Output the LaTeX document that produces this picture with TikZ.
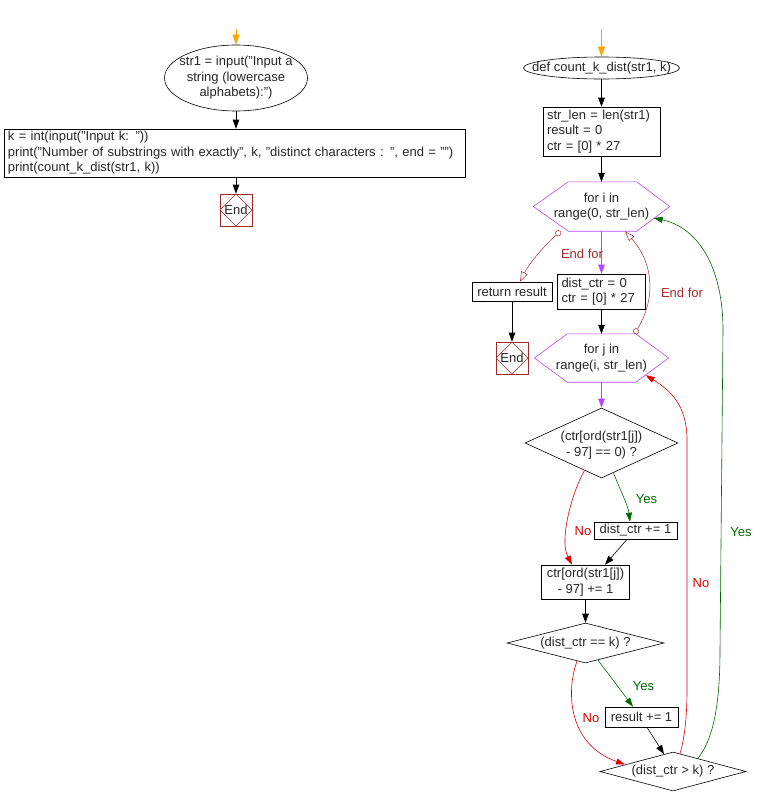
\documentclass[tikz,border=0pt]{standalone}
\usepackage{fontspec}
\setmainfont{Liberation Sans}
\usetikzlibrary{arrows.meta,shapes.geometric,calc}
\definecolor{vio}{RGB}{187,68,255}
\definecolor{efor}{RGB}{165,42,42}
\definecolor{nored}{RGB}{220,0,0}
\definecolor{yesgr}{RGB}{0,105,0}
\definecolor{endred}{RGB}{160,40,40}
\definecolor{org}{RGB}{255,165,0}
\newcommand\myhex[3]{\draw[vio,line width=0.6pt] (#1.west) -- ([xshift=#2]#1.north west) -- ([xshift=-#3]#1.north east) -- (#1.east) -- ([xshift=-#3]#1.south east) -- ([xshift=#2]#1.south west) -- cycle;}
\begin{document}
\begin{tikzpicture}[x=1pt,y=-1pt,
  font=\fontsize{13pt}{15.5pt}\selectfont,
  every node/.style={text=black!85},
  lbox/.style={draw=black,line width=0.6pt,inner xsep=4pt,inner ysep=0pt,align=left},
  cbox/.style={draw=black,line width=0.6pt,inner sep=0pt,align=center},
  dia/.style={diamond,draw=black,line width=0.6pt,inner sep=0pt},
  ell/.style={ellipse,draw=black,line width=0.6pt,inner sep=0pt},
  hexn/.style={inner sep=0pt,align=center},
  endbox/.style={draw=endred,line width=0.6pt,minimum size=32pt,inner sep=0pt,
    path picture={\draw[endred,line width=0.6pt] (path picture bounding box.north) -- (path picture bounding box.east) -- (path picture bounding box.south) -- (path picture bounding box.west) -- cycle;}},
  arr/.style={line width=0.6pt,-{Triangle[length=9pt,width=6.5pt]}},
  varr/.style={arr,draw=vio,-{Triangle[length=9pt,width=6.5pt,fill=vio]}},
  oarr/.style={line width=1pt,draw=org,-{Triangle[length=10pt,width=7pt,fill=org]}},
  farr/.style={line width=0.5pt,draw=efor,{Circle[open,length=6pt,width=6pt]}-{Triangle[open,length=10pt,width=7pt]}},
  noarr/.style={line width=0.6pt,draw=nored,-{Triangle[length=9pt,width=6pt,fill=nored]}},
  yesarr/.style={line width=0.6pt,draw=yesgr,-{Triangle[length=9pt,width=6pt,fill=yesgr]}},
  flab/.style={text=efor},
  nlab/.style={text=nored},
  ylab/.style={text=yesgr}]
\useasboundingbox (0,0) rectangle (758,806);

% ---------- left part ----------
\coordinate (s1) at (236,29);
\node[ell,minimum width=143pt,minimum height=66pt] (e1) at (236,78) {};
\node[align=center] (e1t) at (e1) {str1 = input("Input a\\string (lowercase\\alphabets):")};
\node[lbox,text width=453pt,minimum height=48pt] (b1) at (234.5,153) {k = int(input("Input k: "))\\print("Number of substrings with exactly", k, "distinct characters : ", end = "")\\print(count\_k\_dist(str1, k))};
\node[endbox] (end1) at (236,210) {End};
\draw[oarr] (s1) -- (e1.north);
\draw[arr] (e1.south) -- (e1.south |- b1.north);
\draw[arr] (e1.south |- b1.south) -- (end1.north);

% ---------- right part ----------
\coordinate (s2) at (601.5,29);
\node[ell,minimum width=156pt,minimum height=22pt] (e2) at (601.5,68) {};
\node (e2t) at (e2) {def count\_k\_dist(str1, k)};
\node[lbox,text width=109pt,minimum height=49pt] (b2) at (601.5,131.5) {str\_len = len(str1)\\result = 0\\ctr = [0] * 27};
\node[hexn,minimum width=136pt,minimum height=49pt] (hi) at (601.5,206.5) {for i in\\range(0, str\_len)};
\myhex{hi}{35pt}{33pt}
\node[lbox,text width=80pt,minimum height=35pt] (bd) at (601.5,291.5) {dist\_ctr = 0\\ctr = [0] * 27};
\node[cbox,minimum width=80pt,minimum height=19pt] (ret) at (512,291.5) {return result};
\node[endbox] (end2) at (512,358) {End};
\node[hexn,minimum width=134pt,minimum height=48pt] (hj) at (601.5,358) {for j in\\range(i, str\_len)};
\myhex{hj}{33pt}{33pt}
\node[dia,minimum width=153pt,minimum height=70pt] (d1) at (601.5,443) {};
\node[align=center] (d1t) at (601.5,445) {(ctr[ord(str1[j])\\- 97] == 0) ?};
\node[cbox,minimum width=83pt,minimum height=17pt] (binc) at (635.5,530.5) {dist\_ctr += 1};
\node[cbox,minimum width=88pt,minimum height=34pt] (bc) at (585.5,582) {ctr[ord(str1[j])\\- 97] += 1};
\node[dia,minimum width=157pt,minimum height=40pt] (d2) at (585.5,643) {};
\node (d2t) at (d2) {(dist\_ctr == k) ?};
\node[cbox,minimum width=73pt,minimum height=20pt] (res) at (641.5,717) {result += 1};
\node[dia,minimum width=146pt,minimum height=39pt] (d3) at (673,771.5) {};
\node (d3t) at (d3) {(dist\_ctr > k) ?};

% connectors
\draw[oarr] (s2) -- (e2.north);
\draw[arr] (e2.south) -- (b2.north);
\draw[arr] (b2.south) -- (hi.north);
\draw[varr] (hi.south) -- (bd.north);
\draw[arr] (bd.south) -- (hj.north);
\draw[farr] ([xshift=-41pt]hi.south) .. controls (546,244) and (530,262) .. ([xshift=8pt]ret.north);
\node[flab] at (582,254) {End for};
\draw[arr] (ret.south) -- (end2.north);
\draw[farr] ([xshift=33pt]hj.north) .. controls (655,300) and (655,265) .. ([xshift=23.5pt]hi.south);
\node[flab] at (682,293) {End for};
\draw[varr] (hj.south) -- (d1.north);
\draw[yesarr] ([xshift=12pt,yshift=5.5pt]d1.south) .. controls (620,490) and (628,505) .. ([xshift=-5.5pt]binc.north);
\node[ylab] at (646.5,499) {Yes};
\draw[noarr] ([xshift=-17pt,yshift=7.8pt]d1.south) .. controls (572,492) and (559,540) .. ([xshift=-13.5pt]bc.north);
\node[nlab] at (583,531) {No};
\draw[arr] ([xshift=-8.5pt]binc.south) -- ([xshift=19.5pt]bc.north);
\draw[arr] (bc.south) -- (d2.north);
\draw[yesarr] ([xshift=12.5pt,yshift=3.2pt]d2.south) -- ([xshift=-8.5pt]res.north);
\node[ylab] at (643.5,686) {Yes};
\draw[noarr] ([xshift=-8.5pt,yshift=2.2pt]d2.south) .. controls (565,695) and (570,745) .. ([xshift=-48pt,yshift=-12.8pt]d3.north);
\node[nlab] at (591,718) {No};
\draw[arr] ([xshift=5.5pt]res.south) -- ([xshift=-9pt,yshift=-2.4pt]d3.north);
\draw[noarr] ([xshift=7pt,yshift=-1.9pt]d3.north) .. controls (684,740) and (687,720) .. (687,690) -- (687,440) .. controls (687,405) and (670,390) .. ([xshift=-23pt,yshift=7pt]hj.south east);
\node[nlab] at (701,583) {No};
\draw[yesarr] ([xshift=25pt,yshift=-6.7pt]d3.north) .. controls (712,740) and (720,710) .. (720,650) -- (723,330) .. controls (723,270) and (700,228) .. ([xshift=-16pt,yshift=-11.5pt]hi.east);
\node[ylab] at (741,532) {Yes};
\end{tikzpicture}
\end{document}
